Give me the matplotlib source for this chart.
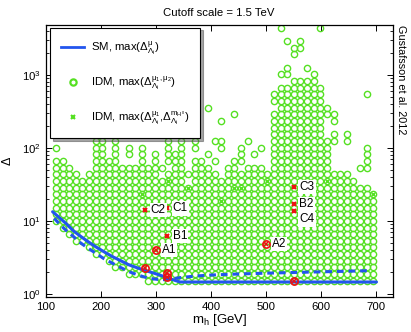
import numpy as np
import matplotlib
matplotlib.use("Agg")
import matplotlib.pyplot as plt
from matplotlib.lines import Line2D

plt.rcParams['font.family'] = ['Liberation Sans', 'DejaVu Sans']
plt.rcParams['mathtext.fontset'] = 'custom'
plt.rcParams['mathtext.rm'] = 'Liberation Sans'
plt.rcParams['mathtext.it'] = 'Liberation Sans'
plt.rcParams['mathtext.bf'] = 'Liberation Sans:bold'
plt.rcParams['font.size'] = 8

# grid of the IDM scan: m_h columns and log-spaced Delta rows
col_mh = [118, 130, 142, 154, 166, 178, 190, 202, 214, 226, 238, 250, 262, 274, 286,
          298, 310, 322, 334, 346, 358, 370, 382, 394, 406, 418, 430, 442, 454, 466,
          478, 490, 502, 514, 526, 538, 550, 562, 574, 586, 598, 610, 622, 634, 646,
          658, 670, 682, 694]
row_delta = [1.23, 1.52, 1.88, 2.31, 2.85, 3.52, 4.34, 5.35, 6.60, 8.14, 10.0, 12.4,
             15.3, 18.9, 23.3, 28.7, 35.4, 43.7, 53.9, 66.5, 82.0, 101, 125, 154, 190,
             236, 290, 358, 442, 545, 672]

# lowest and highest filled row of the dense band, per column
band_low = [10.0, 8.14, 6.60, 5.35, 5.35, 4.34, 3.52, 3.52, 2.85, 2.31, 2.31, 1.88,
            1.88, 1.88, 1.52, 1.52, 1.52, 1.52, 1.52, 1.52, 1.52, 1.52, 1.52, 1.52,
            1.52, 1.52, 1.52, 1.52, 1.52, 1.52, 1.52, 1.52, 1.52, 1.52, 1.52, 1.52,
            1.52, 1.52, 1.52, 1.52, 1.52, 1.52, 1.52, 1.52, 1.52, 1.52, 1.52, 1.52, 1.52]
band_high = [35.4, 35.4, 35.4, 35.4, 35.4, 35.4, 35.4, 35.4, 35.4, 35.4, 35.4, 35.4,
             35.4, 35.4, 35.4, 35.4, 35.4, 35.4, 35.4, 35.4, 28.7, 35.4, 35.4, 35.4,
             35.4, 35.4, 35.4, 35.4, 35.4, 35.4, 35.4, 35.4, 35.4, 236, 672, 672,
             672, 672, 672, 672, 672, 101, 35.4, 35.4, 35.4, 35.4, 28.7, 28.7, 23.3]

# scattered scan points above the dense band
row44_mh = [118, 130, 142, 154, 178, 190, 202, 214, 226, 238, 250, 262, 274, 286, 298,
            322, 334, 346, 358, 370, 382, 394, 406, 430, 442, 454, 466, 478, 490, 502,
            622, 634, 646]
row54_mh = [118, 130, 142, 190, 202, 214, 226, 238, 250, 262, 274, 286, 298, 310, 334,
            346, 370, 382, 394, 430, 442, 466, 478, 490, 670, 682]
row66_mh = [118, 130, 190, 202, 214, 226, 274, 298, 322, 334, 346, 370, 382, 406, 442,
            454, 682]
row82_mh = [190, 202, 226, 250, 274, 298, 322, 334, 346, 394, 454, 478, 682]
row101_mh = [118, 190, 202, 226, 250, 274, 322, 346, 370, 418, 454, 490, 682]
row125_mh = [190, 202, 226, 322, 346, 370, 406, 418, 466, 610, 622, 646]
high_mh = [622, 646, 358, 418, 442, 394, 370, 610, 610, 622, 622, 682, 514, 514, 514,
           550, 562, 574, 586, 526, 538, 586, 538, 574, 550, 550, 562, 538, 562, 526, 598]
high_delta = [154, 154, 190, 236, 290, 358, 672, 358, 290, 290, 236, 545, 442, 545, 290,
              829, 829, 829, 829, 1023, 1023, 1023, 1262, 1262, 1920, 2370, 2370, 2920,
              2920, 4450, 4450]

# IDM points with the m_H0 tuning measure
x_mh = [274, 322, 358, 418, 442, 454, 502, 610, 694]
x_delta = [23.3, 35.4, 28.7, 18.9, 28.7, 28.7, 35.4, 35.4, 23.3]

# SM fine tuning (solid) and IDM lower envelope (dashed)
sm_mh = [112, 125, 136, 150, 160, 175, 190, 205, 221, 236, 251, 266, 281, 296, 311,
         325, 336, 343, 700]
sm_delta = [13.4, 11.0, 9.3, 7.3, 6.4, 5.3, 4.45, 3.8, 3.24, 2.85, 2.5, 2.28, 2.09, 1.93,
            1.77, 1.62, 1.52, 1.46, 1.46]
env_mh = [115, 125, 136, 150, 160, 175, 191, 205, 221, 236, 251, 266, 281, 295, 305, 318,
          330, 345, 370, 400, 440, 500, 560, 620, 690]
env_delta = [10.9, 9.0, 7.5, 6.1, 5.2, 4.3, 3.6, 3.05, 2.63, 2.3, 2.02, 1.83, 1.69, 1.61,
             1.58, 1.57, 1.62, 1.68, 1.76, 1.82, 1.87, 1.93, 1.98, 2.03, 2.09]

# benchmark points
bench_o_mh = [300, 500, 280, 320, 320, 550]
bench_o_delta = [4.0, 4.84, 2.25, 1.96, 1.73, 1.52]
bench_x_mh = [320, 320, 280, 550, 550, 550]
bench_x_delta = [6.2, 14.9, 14.1, 29.5, 16.9, 13.7]
labels = ['A1', 'A2', 'B1', 'C1', 'C2', 'C3', 'B2', 'C4']
label_mh = [300, 500, 320, 320, 280, 550, 550, 550]
label_delta = [4.0, 4.84, 6.2, 14.9, 14.1, 29.5, 16.9, 13.7]
label_dy = [0, 0, 0, 0, 0, 0, 0, -6]

green = '#55e022'
blue = '#2255ee'
red = '#ee1111'

fig = plt.figure(figsize=(4.11, 3.32), dpi=100)
ax = fig.add_axes([0.1119, 0.1054, 0.8443, 0.8193])

# expand the dense band onto the grid
pts_mh, pts_d = [], []
for m, lo, hi in zip(col_mh, band_low, band_high):
    for d in row_delta:
        if lo * 0.999 <= d <= hi * 1.001:
            pts_mh.append(m)
            pts_d.append(d)
for d, cols in [(43.7, row44_mh), (53.9, row54_mh), (66.5, row66_mh),
                (82.0, row82_mh), (101, row101_mh), (125, row125_mh)]:
    pts_mh += cols
    pts_d += [d] * len(cols)
pts_mh += high_mh
pts_d += high_delta

ax.plot(x_mh, x_delta, 'x', color=green, ms=3.5, mew=1.0, ls='none', zorder=2)
ax.plot(pts_mh, pts_d, 'o', mfc='none', mec=green, ms=4.5, mew=1.0, ls='none', zorder=2)

ax.plot(sm_mh, sm_delta, '-', color=blue, lw=2.2, zorder=3, solid_capstyle='round')
ax.plot(env_mh, env_delta, '--', color=blue, lw=2.2, dashes=(2.2, 1.6), zorder=3)

ax.plot(bench_o_mh, bench_o_delta, 'o', mfc='none', mec=red, ms=5.2, mew=1.2, ls='none', zorder=4)
ax.plot(bench_o_mh, bench_o_delta, 'x', color=red, ms=3.0, mew=1.1, ls='none', zorder=4)
ax.plot(bench_x_mh, bench_x_delta, 'x', color=red, ms=3.2, mew=1.5, ls='none', zorder=4)
for lab, m, d, dy in zip(labels, label_mh, label_delta, label_dy):
    ax.annotate(lab, (m, d), xytext=(4, dy), textcoords='offset points', ha='left',
                va='center', fontsize=8.5, zorder=5,
                bbox=dict(boxstyle='square,pad=0.1', fc='white', ec='none'))

ax.set_yscale('log')
ax.set_xlim(100, 730)
ax.set_ylim(0.91, 4840)
ax.set_xticks([100, 200, 300, 400, 500, 600, 700])
ax.tick_params(which='both', direction='in', top=True, right=True, labelsize=8.2)
ax.tick_params(which='major', length=4, width=0.7)
ax.tick_params(which='minor', length=2, width=0.6)
for s in ax.spines.values():
    s.set_linewidth(0.9)

ax.set_xlabel('m$_\\mathrm{h}$ [GeV]', fontsize=9.5, labelpad=0)
ax.set_ylabel('$\\Delta$', fontsize=9, labelpad=6)
fig.text(0.533, 0.962, 'Cutoff scale = 1.5 TeV', ha='center', va='center', fontsize=8.2)
fig.text(0.976, 0.925, 'Gustafsson et al. 2012', rotation=270, ha='center', va='top',
         fontsize=7.8)

handles = [Line2D([], [], color=blue, lw=2),
           Line2D([], [], marker='o', mfc='none', mec=green, ms=4.5, mew=1.6, ls='none'),
           Line2D([], [], marker='x', color=green, ms=3.5, mew=1.5, ls='none')]
leg_labels = ['SM, max($\\Delta^{\\mu}_{\\Lambda_i}$)',
              'IDM, max($\\Delta^{\\mu_1,\\mu_2}_{\\Lambda_i}$)',
              'IDM, max($\\Delta^{\\mu_1}_{\\Lambda_i}$,$\\Delta^{m_{H^0}}_{\\Lambda_i}$)']
leg = ax.legend(handles, leg_labels, loc='upper left', bbox_to_anchor=(0.011, 0.99),
                frameon=True, fancybox=False, shadow=True, fontsize=8.2,
                labelspacing=1.5, borderpad=1.0, handlelength=2.0, handletextpad=0.6,
                borderaxespad=0)
leg.get_frame().set_edgecolor('black')
leg.get_frame().set_linewidth(0.8)
leg.set_zorder(10)

fig.savefig('out.png', dpi=100)
